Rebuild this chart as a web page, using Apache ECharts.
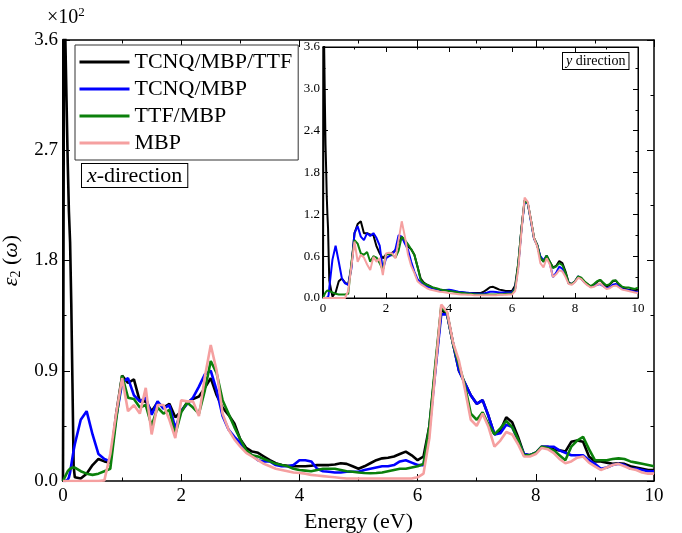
<!DOCTYPE html>
<html>
<head>
<meta charset="utf-8">
<script src="https://cdn.jsdelivr.net/npm/echarts@6/dist/echarts.min.js"></script>
<style>
  html, body { margin: 0; padding: 0; background: #fff; }
  #chart { width: 682px; height: 533px; }
</style>
</head>
<body>
<div id="chart"></div>
<script>
// energy grid (eV): fine steps near 0, then 0.1 eV up to 10
const energy = [0, 0.02, 0.04, 0.06, 0.08, 0.1, 0.12, 0.14, 0.16, 0.18, 0.2]
  .concat(Array.from({length: 98}, (_, i) => +(0.3 + i * 0.1).toFixed(1)));

const names = ['TCNQ/MBP/TTF', 'TCNQ/MBP', 'TTF/MBP', 'MBP'];
const colors = ['#000000', '#0000ff', '#0b800b', '#f5a0a0'];

// x direction (main plot), units of 10^2
const xBlack = [0, 4.5, 3.6, 3.1, 2.6, 2.2, 1.95, 1.45, 0.8, 0.12, 0.03,
  0.02, 0.06, 0.13, 0.18, 0.16, 0.15, 0.55, 0.86, 0.80, 0.83,
  0.65, 0.65, 0.57, 0.64, 0.60, 0.63, 0.52, 0.57, 0.64, 0.67,
  0.69, 0.76, 0.84, 0.70, 0.60, 0.54, 0.47, 0.34, 0.27, 0.24,
  0.23, 0.20, 0.17, 0.145, 0.13, 0.125, 0.12, 0.12, 0.12, 0.125,
  0.13, 0.13, 0.13, 0.135, 0.145, 0.14, 0.12, 0.10, 0.12, 0.145,
  0.17, 0.185, 0.19, 0.20, 0.22, 0.24, 0.21, 0.17, 0.20, 0.45,
  0.92, 1.40, 1.36, 1.12, 0.90, 0.80, 0.70, 0.63, 0.66, 0.53,
  0.38, 0.41, 0.52, 0.48, 0.36, 0.22, 0.21, 0.23, 0.28, 0.28,
  0.26, 0.25, 0.24, 0.32, 0.33, 0.32, 0.20, 0.16, 0.16, 0.15,
  0.14, 0.145, 0.14, 0.12, 0.11, 0.10, 0.09, 0.09];
const xBlue = [0, 0, 0, 0, 0.01, 0.03, 0.07, 0.13, 0.19, 0.25, 0.30,
  0.50, 0.57, 0.38, 0.22, 0.18, 0.16, 0.52, 0.80, 0.84, 0.70,
  0.65, 0.68, 0.54, 0.65, 0.59, 0.62, 0.43, 0.57, 0.63, 0.68,
  0.77, 0.87, 0.90, 0.74, 0.53, 0.42, 0.36, 0.31, 0.24, 0.21,
  0.17, 0.16, 0.16, 0.13, 0.12, 0.12, 0.13, 0.17, 0.17, 0.16,
  0.10, 0.08, 0.076, 0.07, 0.07, 0.075, 0.075, 0.076, 0.09, 0.10,
  0.11, 0.12, 0.12, 0.13, 0.16, 0.17, 0.15, 0.13, 0.13, 0.42,
  0.90, 1.36, 1.36, 1.12, 0.90, 0.80, 0.70, 0.63, 0.66, 0.53,
  0.38, 0.39, 0.46, 0.44, 0.33, 0.22, 0.21, 0.23, 0.28, 0.28,
  0.28, 0.25, 0.23, 0.21, 0.21, 0.21, 0.17, 0.14, 0.10, 0.11,
  0.13, 0.14, 0.13, 0.10, 0.10, 0.09, 0.08, 0.08];
const xGreen = [0, 0.02, 0.04, 0.06, 0.08, 0.09, 0.10, 0.10, 0.11, 0.11, 0.11,
  0.08, 0.06, 0.05, 0.06, 0.08, 0.10, 0.50, 0.86, 0.68, 0.67,
  0.60, 0.62, 0.45, 0.60, 0.55, 0.58, 0.38, 0.56, 0.64, 0.60,
  0.55, 0.74, 0.98, 0.88, 0.66, 0.55, 0.44, 0.34, 0.25, 0.21,
  0.20, 0.18, 0.16, 0.14, 0.13, 0.12, 0.10, 0.09, 0.085, 0.08,
  0.09, 0.10, 0.10, 0.10, 0.09, 0.08, 0.076, 0.07, 0.065, 0.063,
  0.065, 0.07, 0.08, 0.09, 0.10, 0.10, 0.11, 0.12, 0.14, 0.45,
  0.95, 1.42, 1.37, 1.12, 0.95, 0.78, 0.55, 0.50, 0.56, 0.46,
  0.38, 0.43, 0.49, 0.44, 0.34, 0.21, 0.21, 0.23, 0.28, 0.27,
  0.25, 0.21, 0.17, 0.28, 0.33, 0.36, 0.26, 0.17, 0.17, 0.17,
  0.18, 0.185, 0.18, 0.16, 0.15, 0.14, 0.13, 0.12];
const xPink = [0, 0, 0, 0, 0, 0, 0, 0, 0, 0, 0,
  0, 0, 0, 0, 0.005, 0.22, 0.55, 0.84, 0.57, 0.62,
  0.55, 0.76, 0.38, 0.62, 0.62, 0.50, 0.35, 0.66, 0.65, 0.65,
  0.53, 0.85, 1.11, 0.90, 0.55, 0.42, 0.34, 0.28, 0.23, 0.20,
  0.17, 0.14, 0.12, 0.10, 0.09, 0.08, 0.07, 0.065, 0.06, 0.05,
  0.045, 0.04, 0.035, 0.03, 0.025, 0.02, 0.02, 0.02, 0.02, 0.02,
  0.02, 0.02, 0.02, 0.02, 0.02, 0.02, 0.02, 0.03, 0.06, 0.35,
  0.90, 1.44, 1.38, 1.13, 0.98, 0.75, 0.50, 0.45, 0.55, 0.44,
  0.28, 0.33, 0.40, 0.38, 0.30, 0.20, 0.20, 0.22, 0.27, 0.26,
  0.23, 0.18, 0.145, 0.16, 0.19, 0.20, 0.15, 0.12, 0.09, 0.11,
  0.13, 0.14, 0.12, 0.10, 0.09, 0.07, 0.06, 0.06];

// y direction (inset)
const yBlack = [0, 4.2, 3.5, 2.8, 2.2, 1.85, 1.45, 1.2, 1.0, 0.6, 0.25,
  0.02, 0.08, 0.24, 0.28, 0.22, 0.19, 0.45, 0.93, 1.06, 1.10,
  0.93, 0.93, 0.91, 0.90, 0.74, 0.64, 0.57, 0.62, 0.64, 0.65,
  0.68, 0.80, 0.88, 0.80, 0.74, 0.70, 0.62, 0.45, 0.28, 0.22,
  0.19, 0.17, 0.14, 0.13, 0.12, 0.115, 0.11, 0.11, 0.10, 0.09,
  0.085, 0.08, 0.075, 0.07, 0.07, 0.07, 0.07, 0.07, 0.09, 0.12,
  0.155, 0.16, 0.14, 0.12, 0.11, 0.10, 0.10, 0.10, 0.18, 0.50,
  1.0, 1.40, 1.36, 1.12, 0.86, 0.76, 0.58, 0.52, 0.60, 0.52,
  0.44, 0.46, 0.53, 0.50, 0.38, 0.22, 0.20, 0.24, 0.30, 0.28,
  0.23, 0.20, 0.16, 0.19, 0.23, 0.26, 0.21, 0.16, 0.19, 0.24,
  0.25, 0.18, 0.14, 0.13, 0.12, 0.11, 0.11, 0.12];
const yBlue = [0, 0, 0, 0, 0, 0, 0, 0, 0.01, 0.05, 0.15,
  0.55, 0.75, 0.52, 0.28, 0.21, 0.19, 0.42, 0.93, 1.03, 0.88,
  0.83, 0.93, 0.89, 0.93, 0.86, 0.75, 0.40, 0.57, 0.60, 0.62,
  0.70, 0.90, 0.88, 0.78, 0.69, 0.52, 0.38, 0.27, 0.22, 0.19,
  0.16, 0.15, 0.14, 0.13, 0.12, 0.115, 0.115, 0.12, 0.11, 0.10,
  0.09, 0.085, 0.08, 0.075, 0.07, 0.065, 0.06, 0.06, 0.065, 0.075,
  0.09, 0.09, 0.085, 0.08, 0.08, 0.08, 0.08, 0.08, 0.14, 0.46,
  0.98, 1.38, 1.36, 1.10, 0.85, 0.76, 0.60, 0.54, 0.61, 0.50,
  0.30, 0.36, 0.45, 0.42, 0.34, 0.21, 0.20, 0.24, 0.31, 0.28,
  0.23, 0.19, 0.16, 0.17, 0.19, 0.20, 0.17, 0.14, 0.15, 0.19,
  0.20, 0.16, 0.13, 0.12, 0.11, 0.10, 0.09, 0.08];
const yGreen = [0, 0.02, 0.04, 0.06, 0.08, 0.09, 0.10, 0.11, 0.11, 0.11, 0.11,
  0.08, 0.06, 0.05, 0.05, 0.05, 0.06, 0.50, 0.83, 0.78, 0.64,
  0.62, 0.66, 0.52, 0.60, 0.58, 0.50, 0.40, 0.63, 0.63, 0.62,
  0.58, 0.68, 0.88, 0.83, 0.77, 0.70, 0.62, 0.45, 0.26, 0.21,
  0.19, 0.17, 0.15, 0.14, 0.125, 0.115, 0.11, 0.10, 0.095, 0.09,
  0.08, 0.075, 0.07, 0.065, 0.06, 0.055, 0.05, 0.05, 0.05, 0.05,
  0.05, 0.05, 0.05, 0.055, 0.055, 0.06, 0.06, 0.065, 0.13, 0.50,
  1.0, 1.40, 1.36, 1.12, 0.86, 0.76, 0.58, 0.52, 0.61, 0.52,
  0.43, 0.45, 0.50, 0.47, 0.36, 0.21, 0.20, 0.24, 0.31, 0.29,
  0.24, 0.20, 0.17, 0.20, 0.24, 0.26, 0.22, 0.18, 0.20, 0.25,
  0.25, 0.20, 0.16, 0.15, 0.15, 0.14, 0.13, 0.15];
const yPink = [0, 0, 0, 0, 0, 0, 0, 0, 0, 0, 0,
  0, 0, 0, 0, 0, 0.10, 0.45, 0.81, 0.52, 0.62,
  0.58, 0.48, 0.40, 0.59, 0.52, 0.57, 0.33, 0.64, 0.65, 0.64,
  0.57, 0.83, 1.10, 0.88, 0.62, 0.46, 0.36, 0.24, 0.20, 0.17,
  0.14, 0.12, 0.11, 0.10, 0.09, 0.085, 0.08, 0.07, 0.065, 0.06,
  0.055, 0.05, 0.05, 0.045, 0.045, 0.04, 0.04, 0.04, 0.04, 0.04,
  0.04, 0.04, 0.04, 0.045, 0.045, 0.045, 0.05, 0.05, 0.10, 0.42,
  0.95, 1.44, 1.38, 1.12, 0.86, 0.74, 0.50, 0.44, 0.57, 0.48,
  0.30, 0.34, 0.40, 0.38, 0.30, 0.20, 0.19, 0.23, 0.29, 0.27,
  0.22, 0.18, 0.15, 0.16, 0.19, 0.21, 0.17, 0.13, 0.14, 0.17,
  0.18, 0.15, 0.12, 0.11, 0.10, 0.09, 0.08, 0.07];

const xSeries = [xBlack, xBlue, xGreen, xPink];
const ySeries = [yBlack, yBlue, yGreen, yPink];

const FONT = '"Liberation Serif", "Times New Roman", serif';

function axis(dir, grid, opts) {
  const a = {
    type: 'value',
    gridIndex: grid,
    min: 0,
    max: dir === 'x' ? 10 : 3.6,
    interval: opts.interval,
    position: opts.position,
    z: opts.z || 0,
    splitLine: {show: false},
    axisLine: {show: true, onZero: false, lineStyle: {color: '#000', width: opts.lineWidth || 1}},
    axisTick: {show: true, inside: true, length: opts.tick, lineStyle: {color: '#000', width: 1}},
    minorTick: {show: true, splitNumber: 2, length: opts.tick / 2, lineStyle: {color: '#000', width: 1}},
    axisLabel: {
      show: !!opts.label,
      color: '#000',
      fontFamily: FONT,
      fontSize: opts.fontSize,
      margin: opts.margin,
      hideOverlap: false,
      formatter: dir === 'x' ? (v => String(v)) : (v => v.toFixed(1))
    }
  };
  return Object.assign(a, opts.extra || {});
}

const series = [];
names.forEach((n, i) => {
  series.push({
    name: n, type: 'line', xAxisIndex: 0, yAxisIndex: 0,
    data: energy.map((e, k) => [e, xSeries[i][k]]),
    symbol: 'none', clip: true, z: 2 + i * 0.01,
    lineStyle: {color: colors[i], width: 2.6},
    itemStyle: {color: colors[i]}
  });
});
names.forEach((n, i) => {
  series.push({
    name: n, type: 'line', xAxisIndex: 2, yAxisIndex: 2,
    data: energy.map((e, k) => [e, ySeries[i][k]]),
    symbol: 'none', clip: true, z: 7 + i * 0.01,
    lineStyle: {color: colors[i], width: 2},
    itemStyle: {color: colors[i]}
  });
});

const chart = echarts.init(document.getElementById('chart'), null, {renderer: 'canvas'});
chart.setOption({
  backgroundColor: '#fff',
  animation: false,
  grid: [
    {left: 63, top: 40, width: 591, height: 441, show: false, outerBoundsMode: 'none', containLabel: false},
    {left: 323, top: 47, width: 315, height: 251, show: true, z: 5, outerBoundsMode: 'none', containLabel: false,
     backgroundColor: '#fff', borderColor: '#000', borderWidth: 1}
  ],
  xAxis: [
    axis('x', 0, {interval: 2, position: 'bottom', tick: 7, label: true, fontSize: 19, margin: 6, lineWidth: 1.5,
      extra: {name: 'Energy (eV)', nameLocation: 'middle', nameGap: 30,
        nameTextStyle: {color: '#000', fontFamily: FONT, fontSize: 22}}}),
    axis('x', 0, {interval: 2, position: 'top', tick: 7, lineWidth: 1.5}),
    axis('x', 1, {interval: 2, position: 'bottom', tick: 5, label: true, fontSize: 13, margin: 4, z: 6}),
    axis('x', 1, {interval: 2, position: 'top', tick: 5, z: 6})
  ],
  yAxis: [
    axis('y', 0, {interval: 0.9, position: 'left', tick: 7, label: true, fontSize: 19, margin: 5, lineWidth: 2,
      extra: {name: '{e|ε}{s|2} ({e|ω})', nameLocation: 'middle', nameGap: 36, nameRotate: 90,
        nameTextStyle: {color: '#000', fontFamily: FONT, fontSize: 22,
          rich: {
            e: {fontFamily: FONT, fontSize: 22, fontStyle: 'italic', color: '#000'},
            s: {fontFamily: FONT, fontSize: 14, color: '#000', padding: [10, 0, 0, 0]}
          }}}}),
    axis('y', 0, {interval: 0.9, position: 'right', tick: 7, lineWidth: 1.5}),
    axis('y', 1, {interval: 0.6, position: 'left', tick: 5, label: true, fontSize: 13, margin: 3, z: 6}),
    axis('y', 1, {interval: 0.6, position: 'right', tick: 5, z: 6})
  ],
  legend: {
    show: true,
    data: names,
    orient: 'vertical',
    left: 75, top: 45,
    padding: [6, 6, 6, 3],
    itemWidth: 50, itemHeight: 22, itemGap: 5,
    borderColor: '#333', borderWidth: 1,
    backgroundColor: '#fff',
    z: 10,
    itemStyle: {opacity: 0, borderWidth: 0},
    lineStyle: {width: 3},
    textStyle: {color: '#000', fontFamily: FONT, fontSize: 22},
    selectedMode: false
  },
  graphic: [
    {type: 'text', left: 47, top: 6, z: 10,
     style: {text: '×10{p|2}', fill: '#000', font: '20px ' + FONT,
       rich: {p: {fontSize: 13, fontFamily: FONT, fill: '#000', padding: [0, 0, 10, 0]}}}},
    {type: 'text', left: 81, top: 163, z: 10,
     style: {text: '{i|x}-direction', fill: '#000', font: '22px ' + FONT,
       backgroundColor: '#fff', borderColor: '#000', borderWidth: 1, padding: [1, 5, 0, 5],
       rich: {i: {fontStyle: 'italic', fontSize: 22, fontFamily: FONT, fill: '#000'}}}},
    {type: 'text', left: 562, top: 52, z: 10,
     style: {text: '{i|y} direction', fill: '#000', font: '14px ' + FONT,
       backgroundColor: '#fff', borderColor: '#000', borderWidth: 1, padding: [1, 3, 1, 3],
       rich: {i: {fontStyle: 'italic', fontSize: 14, fontFamily: FONT, fill: '#000'}}}}
  ],
  series: series
});
</script>
</body>
</html>
